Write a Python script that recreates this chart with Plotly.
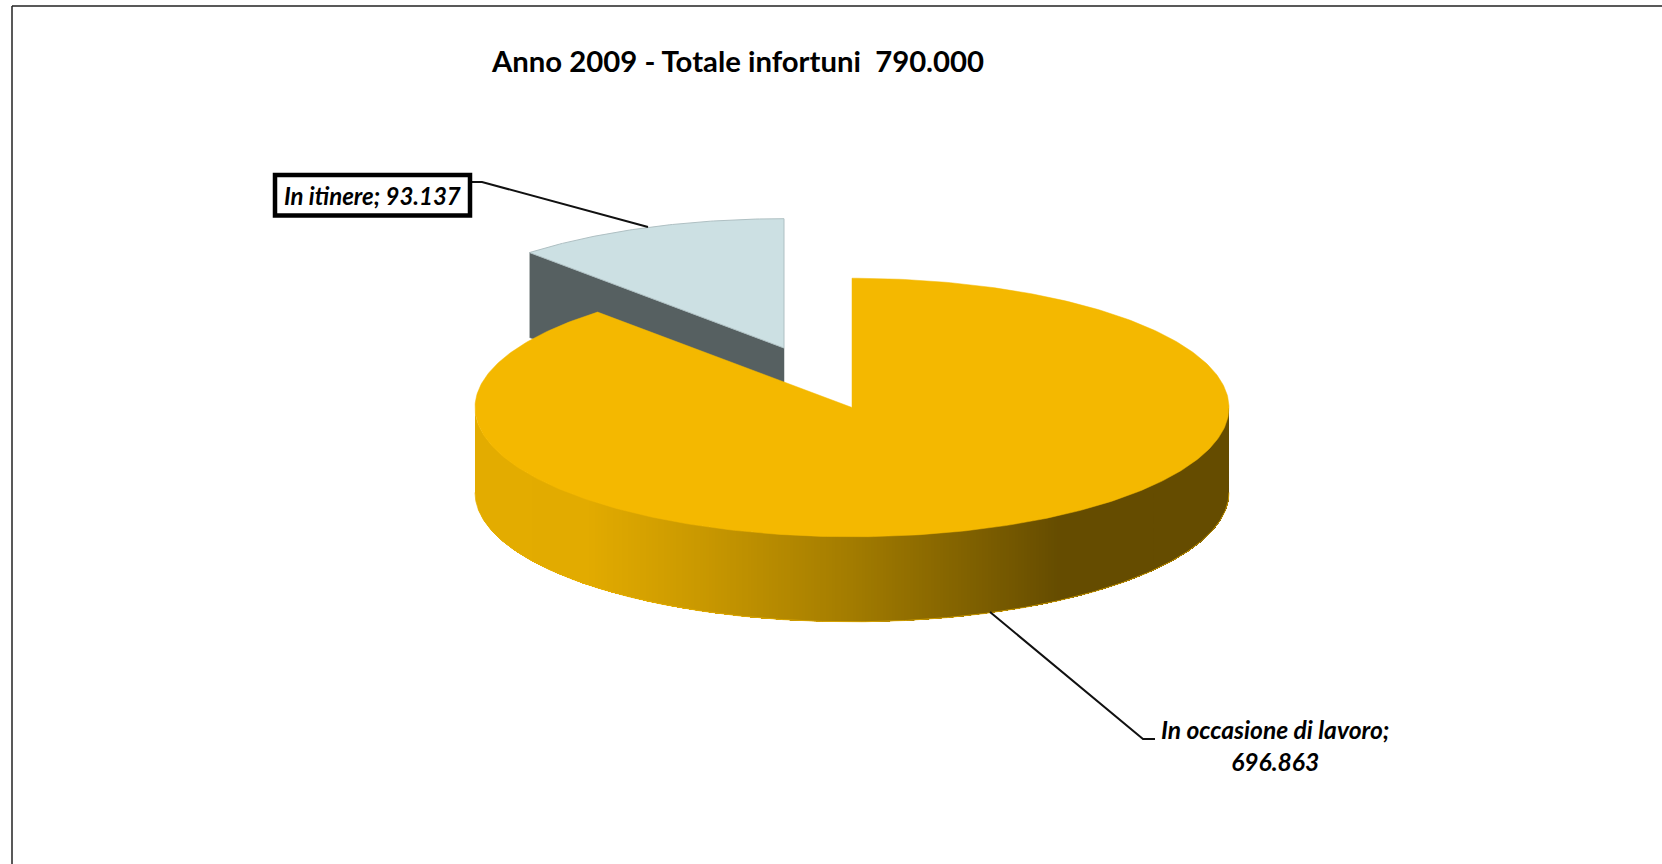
import numpy as np
import plotly.graph_objects as go

# --- data ---
categories = ["In occasione di lavoro", "In itinere"]
values = [696863, 93137]
value_labels = ["696.863", "93.137"]
title_text = "Anno 2009 - Totale infortuni\u00a0 790.000"

# --- style / geometry of the perspective pie, in page pixels ---
W, H = 1662, 864
CX, CY, RX, RY, DEPTH = 852.0, 407.5, 377.0, 129.3, 85.0
EXPLODE = (-68.0, -59.5)
YELLOW = "#F4B800"
LIGHT = "#CCE0E3"
LIGHT_EDGE = "#AFC0C3"
INNER = "#566061"
FONT = "Lato, Carlito, 'Open Sans', sans-serif"
GRAD_X = [474, 590, 700, 852, 1062, 1230]
GRAD_RGB = [(228, 173, 0), (226, 171, 0), (202, 153, 0), (163, 124, 0), (101, 76, 0), (101, 76, 0)]

total = sum(values)
sweep_main = 2 * np.pi * values[0] / total


def rim(theta, cx, cy):
    return cx + RX * np.sin(theta), cy - RY * np.cos(theta)


def poly(fig, xs, ys, fill, line=None, width=1):
    fig.add_trace(go.Scatter(
        x=list(xs), y=list(ys), mode="lines", fill="toself", fillcolor=fill,
        line=dict(color=line or fill, width=width), hoverinfo="skip", showlegend=False,
    ))


fig = go.Figure()

# exploded slice (second value): inner wall and top
ax, ay = CX + EXPLODE[0], CY + EXPLODE[1]
t2 = np.linspace(sweep_main, 2 * np.pi, 80)
rx2, ry2 = rim(t2, ax, ay)
poly(fig, [rx2[0], ax, ax, rx2[0]], [ry2[0], ay, ay + DEPTH, ry2[0] + DEPTH], INNER, INNER, 0.5)
poly(fig, [ax, *rx2, ax], [ay, *ry2, ay], LIGHT, LIGHT_EDGE, 1)

# front wall of the main slice: overlapping bands painted left to right,
# each reaching the right end, so no seams appear between gradient steps
wall_t = np.linspace(-np.pi / 2, np.pi / 2, 361)
wall_x = CX + RX * np.sin(wall_t)
wall_y = CY + RY * np.cos(wall_t)
for left in np.arange(CX - RX, CX + RX, 3.0):
    keep = wall_x >= left
    xs = np.r_[left, wall_x[keep]]
    low = np.r_[CY + RY * np.sqrt(max(0.0, 1 - ((left - CX) / RX) ** 2)), wall_y[keep]]
    rgb = [int(np.interp(left + 1.5, GRAD_X, [c[i] for c in GRAD_RGB])) for i in range(3)]
    col = f"rgb({rgb[0]},{rgb[1]},{rgb[2]})"
    poly(fig, [*xs, *xs[::-1]], [*low, *(low[::-1] + DEPTH)], col, col, 0)

# thin bright rim along the lower edge of the wall
fig.add_trace(go.Scatter(x=list(wall_x), y=list(wall_y + DEPTH), mode="lines",
                         line=dict(color="#E8B000", width=0.7), hoverinfo="skip", showlegend=False))

# top of the main slice
t1 = np.linspace(0, sweep_main, 400)
rx1, ry1 = rim(t1, CX, CY)
poly(fig, [CX, *rx1, CX], [CY, *ry1, CY], YELLOW, YELLOW, 0.5)

# leader lines
fig.add_trace(go.Scatter(x=[472, 482, 648], y=[182, 182, 227], mode="lines",
                         line=dict(color="#111111", width=2), hoverinfo="skip", showlegend=False))
fig.add_trace(go.Scatter(x=[990, 1143, 1155], y=[612, 739, 739], mode="lines",
                         line=dict(color="#111111", width=2), hoverinfo="skip", showlegend=False))

fig.update_layout(
    width=W, height=H, margin=dict(l=0, r=0, t=0, b=0),
    paper_bgcolor="white", plot_bgcolor="white", showlegend=False,
    xaxis=dict(range=[0, W], visible=False, fixedrange=True),
    yaxis=dict(range=[H, 0], visible=False, fixedrange=True),
    shapes=[
        dict(type="line", xref="x", yref="y", x0=12, y0=6, x1=W, y1=6, line=dict(color="#222222", width=1.5)),
        dict(type="line", xref="x", yref="y", x0=12, y0=6, x1=12, y1=H, line=dict(color="#222222", width=1.5)),
        dict(type="rect", xref="x", yref="y", x0=275, y0=175, x1=470, y1=215.5,
             line=dict(color="black", width=4.5), fillcolor="white"),
    ],
    annotations=[
        dict(text=f"<b>{title_text}</b>", x=737.5, y=60, xref="x", yref="y", showarrow=False,
             font=dict(family=FONT, size=29.3, color="black"), xanchor="center", yanchor="middle"),
        dict(text=f"<b><i>{categories[1]}; {value_labels[1]}</i></b>", x=372, y=195, xref="x", yref="y",
             showarrow=False, font=dict(family=FONT, size=24, color="black"), xanchor="center", yanchor="middle"),
        dict(text=f"<b><i>{categories[0]};<br>{value_labels[0]}</i></b>", x=1275, y=745.5, xref="x", yref="y",
             showarrow=False, align="center", font=dict(family=FONT, size=24.6, color="black"),
             xanchor="center", yanchor="middle"),
    ],
)

fig.write_html("out.html", config={"displayModeBar": False},
               post_script="document.body.style.margin='0';document.body.style.overflow='hidden';")
